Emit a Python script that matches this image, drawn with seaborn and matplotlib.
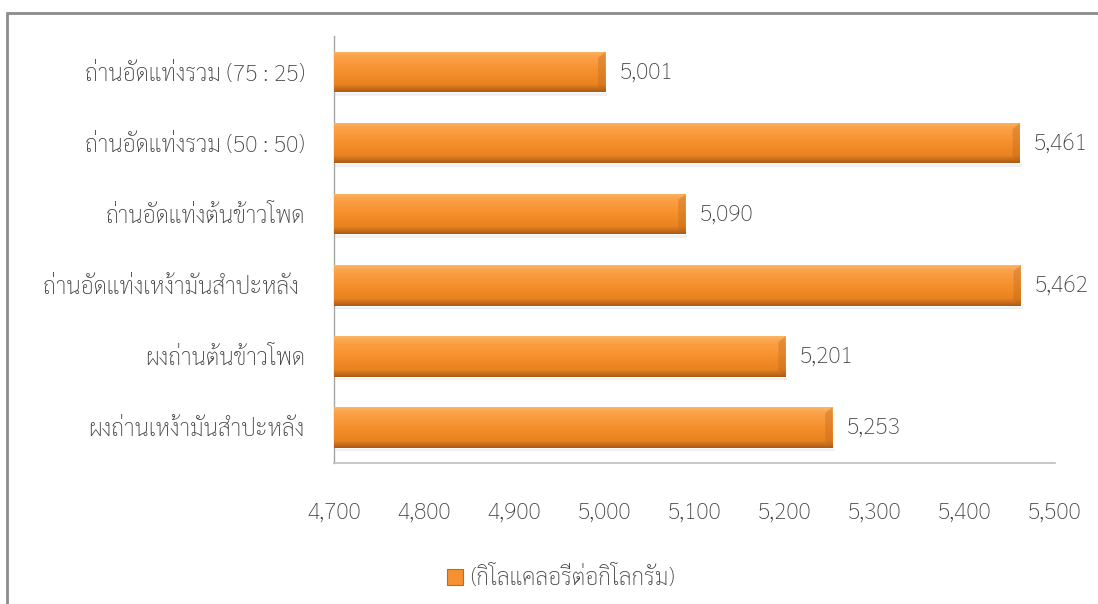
import matplotlib
matplotlib.use("Agg")
import matplotlib.pyplot as plt
import matplotlib.patches as mpatches
from matplotlib.colors import LinearSegmentedColormap
from matplotlib.ticker import FuncFormatter
import numpy as np
import pandas as pd
import seaborn as sns

categories = [
    "ถ่านอัดแท่งรวม (75 : 25)",
    "ถ่านอัดแท่งรวม (50 : 50)",
    "ถ่านอัดแท่งต้นข้าวโพด",
    "ถ่านอัดแท่งเหง้ามันสำปะหลัง ",
    "ผงถ่านต้นข้าวโพด",
    "ผงถ่านเหง้ามันสำปะหลัง",
]
values = [5001, 5461, 5090, 5462, 5201, 5253]
series_name = "(กิโลแคลอรี่ต่อกิโลกรัม)"
x_ticks = [4700, 4800, 4900, 5000, 5100, 5200, 5300, 5400, 5500]

sns.set_theme(style="white")
plt.rcParams["font.family"] = ["Sarabun", "Loma", "DejaVu Sans"]
plt.rcParams["font.weight"] = "light"

df = pd.DataFrame({"category": categories, "value": values})

fig = plt.figure(figsize=(10.98, 6.04), dpi=100)
ax = fig.add_axes([334 / 1098, 1 - 463 / 604, (1055 - 334) / 1098, (463 - 36.5) / 604])

bar_color = "#F7902E"
sns.barplot(data=df, y="category", x="value", orient="h", color=bar_color,
            width=0.57, ax=ax, saturation=1, zorder=2)

ax.set_xlim(x_ticks[0], x_ticks[-1])
ax.set_xticks(x_ticks)
ax.xaxis.set_major_formatter(FuncFormatter(lambda v, p: f"{int(v):,}"))
ax.set_xlabel("")
ax.set_ylabel("")

text_color = "#404040"
fs = 16.5
ax.tick_params(axis="x", length=0, pad=27, labelsize=fs, labelcolor=text_color)
ax.tick_params(axis="y", length=0, pad=21, labelsize=fs, labelcolor=text_color)

for side in ["top", "right"]:
    ax.spines[side].set_visible(False)
ax.spines["left"].set_color("#A6A6A6")
ax.spines["bottom"].set_color("#BFBFBF")
ax.spines["left"].set_linewidth(1.0)
ax.spines["bottom"].set_linewidth(1.2)

# glossy vertical shading, bevelled end and soft shadow on each bar
shade = LinearSegmentedColormap.from_list(
    "shade",
    [(0.0, "#FBB768"), (0.12, "#FBA24A"), (0.45, "#F7922F"),
     (0.82, "#E9821F"), (1.0, "#A85A16")],
)
grad = np.linspace(0, 1, 256).reshape(-1, 1)
for patch in ax.patches:
    x0, y0 = patch.get_x(), patch.get_y()
    w, h = patch.get_width(), patch.get_height()
    xs = x_ticks[0]
    shadow = mpatches.Rectangle((xs, y0 + h * 1.0), x0 + w - xs + 2, h * 0.08,
                                facecolor="#000000", alpha=0.06, lw=0, zorder=1)
    ax.add_patch(shadow)
    im = ax.imshow(grad, cmap=shade, aspect="auto",
                   extent=(xs, x0 + w, y0 + h, y0), zorder=3,
                   interpolation="bilinear")
    im.set_clip_path(patch)
    cap = mpatches.Polygon(
        [(x0 + w - 8, y0 + h * 0.15), (x0 + w, y0), (x0 + w, y0 + h),
         (x0 + w - 8, y0 + h * 0.85)],
        closed=True, facecolor="#B8661C", alpha=0.35, lw=0, zorder=4)
    ax.add_patch(cap)
ax.set_ylim(5.5, -0.5)

for i, v in enumerate(values):
    ax.text(v + 16, i, f"{v:,}", va="center", ha="left",
            fontsize=fs, color=text_color, zorder=5)

handle = mpatches.Patch(facecolor=bar_color, edgecolor="#C06A1C", linewidth=0.8)
fig.legend([handle], [series_name], loc="center", bbox_to_anchor=(561 / 1098, 1 - 578 / 604),
           frameon=False, fontsize=fs, handlelength=0.7, handleheight=0.7,
           handletextpad=0.3, labelcolor=text_color)

# outer frame of the chart area
frame = mpatches.Rectangle((7 / 1098, -0.1), 1.2, 1 - 13 / 604 + 0.1,
                           transform=fig.transFigure, fill=False,
                           edgecolor="#8C8C8C", linewidth=2, clip_on=False)
fig.patches.append(frame)

fig.savefig("out.png", dpi=100)
